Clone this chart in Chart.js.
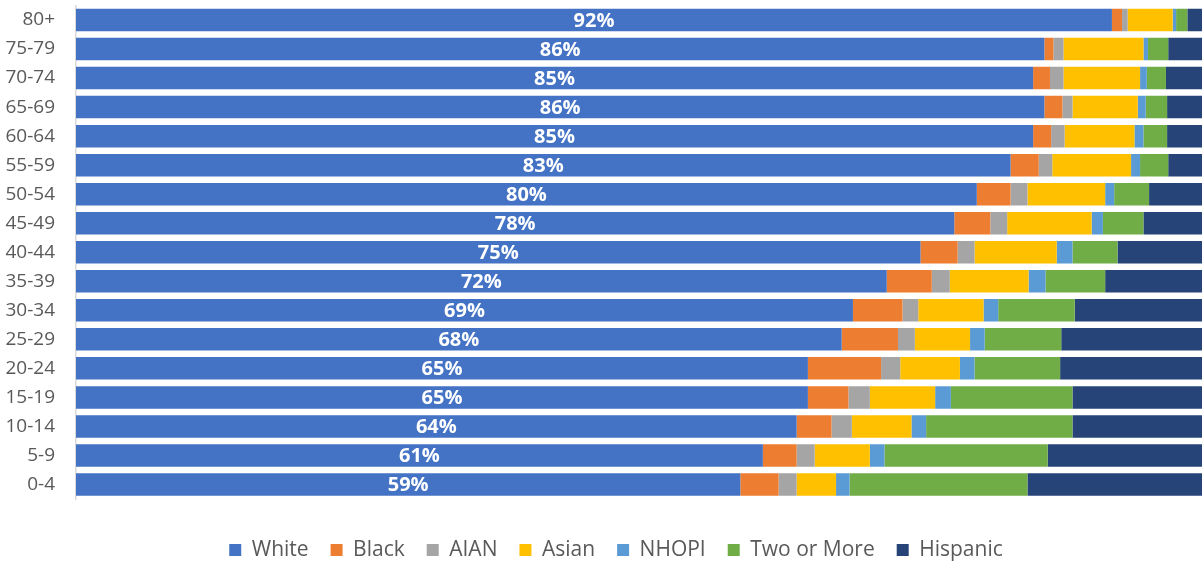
<!DOCTYPE html>
<html>
<head>
<meta charset="utf-8">
<title>Population by age group and race/ethnicity</title>
<script src="https://cdn.jsdelivr.net/npm/chart.js"></script>
<style>
  html, body { margin: 0; padding: 0; background: #fff; overflow: hidden; }
  #wrap { width: 1202px; height: 561px; }
</style>
</head>
<body>
<div id="wrap"><canvas id="raceChart" width="1202" height="561"></canvas></div>
<script>
// age groups, oldest at the top
const ageGroups = ['80+', '75-79', '70-74', '65-69', '60-64', '55-59', '50-54', '45-49', '40-44',
  '35-39', '30-34', '25-29', '20-24', '15-19', '10-14', '5-9', '0-4'];

// share of each group (%)
const white     = [92, 86, 85, 86, 85, 83, 80, 78, 75, 72, 69, 68, 65, 65, 64, 61, 59];
const black     = [0.9, 0.8, 1.5, 1.6, 1.6, 2.5, 3.0, 3.2, 3.3, 4.0, 4.4, 5.0, 6.5, 3.6, 3.1, 3.0, 3.4];
const aian      = [0.5, 0.9, 1.2, 0.9, 1.2, 1.2, 1.5, 1.5, 1.5, 1.6, 1.4, 1.5, 1.7, 1.9, 1.8, 1.6, 1.6];
const asian     = [4.0, 7.1, 6.8, 5.8, 6.2, 7.0, 6.9, 7.5, 7.3, 7.0, 5.8, 4.9, 5.3, 5.8, 5.3, 4.9, 3.5];
const nhopi     = [0.3, 0.4, 0.6, 0.7, 0.8, 0.8, 0.8, 1.0, 1.4, 1.5, 1.3, 1.3, 1.3, 1.4, 1.3, 1.3, 1.2];
const twoOrMore = [1.0, 1.8, 1.7, 1.9, 2.1, 2.5, 3.1, 3.6, 4.0, 5.3, 6.8, 6.8, 7.6, 10.8, 13.0, 14.5, 15.8];
const hispanic  = [1.3, 3.0, 3.2, 3.1, 3.1, 3.0, 4.7, 5.2, 7.5, 8.6, 11.3, 12.5, 12.6, 11.5, 11.5, 13.7, 15.5];

const FONT = '"Open Sans", "Noto Sans", sans-serif';
const TEXT_GRAY = '#595959';

const series = [
  { label: 'White',       data: white,     color: '#4472C4' },
  { label: 'Black',       data: black,     color: '#ED7D31' },
  { label: 'AIAN',        data: aian,      color: '#A5A5A5' },
  { label: 'Asian',       data: asian,     color: '#FFC000' },
  { label: 'NHOPI',       data: nhopi,     color: '#5B9BD5' },
  { label: 'Two or More', data: twoOrMore, color: '#70AD47' },
  { label: 'Hispanic',    data: hispanic,  color: '#264478' }
];

// white percentage written inside the first segment of each bar
const whiteLabels = {
  id: 'whiteLabels',
  afterDatasetsDraw(chart) {
    const meta = chart.getDatasetMeta(0);
    const ctx = chart.ctx;
    ctx.save();
    ctx.font = 'bold 20px ' + FONT;
    ctx.fillStyle = '#ffffff';
    ctx.textAlign = 'center';
    ctx.textBaseline = 'middle';
    meta.data.forEach((bar, i) => {
      const cx = (bar.x + bar.base) / 2;
      ctx.fillText(white[i] + '%', cx, bar.y + 1);
    });
    ctx.restore();
  }
};

// nudge the legend a little to the right of the canvas centre
const legendShift = {
  id: 'legendShift',
  afterLayout(chart) {
    if (chart.legend) {
      chart.legend.left += 15;
      chart.legend.right += 15;
    }
  }
};

new Chart(document.getElementById('raceChart'), {
  type: 'bar',
  data: {
    labels: ageGroups,
    datasets: series.map(s => ({
      label: s.label,
      data: s.data,
      backgroundColor: s.color,
      borderWidth: 0,
      barPercentage: 0.775,
      categoryPercentage: 1
    }))
  },
  options: {
    indexAxis: 'y',
    responsive: false,
    animation: false,
    devicePixelRatio: 1,
    layout: { padding: { left: 0, right: 0, top: 5.5, bottom: -9.5 } },
    scales: {
      x: {
        stacked: true,
        min: 0,
        max: 100,
        grid: { display: false },
        border: { display: false },
        ticks: { display: false },
        afterFit(scale) { scale.height = 18.5; }
      },
      y: {
        stacked: true,
        grid: { display: false, drawTicks: false },
        border: { display: true, color: '#d9d9d9', width: 1.5 },
        ticks: {
          color: TEXT_GRAY,
          padding: 21,
          font: { family: FONT, size: 19 }
        },
        afterFit(scale) {
          // fixed label column; the tick padding should not push the plot down
          scale.width = 76;
          scale.paddingTop = 0;
          scale.paddingBottom = 0;
        }
      }
    },
    plugins: {
      tooltip: { enabled: false },
      legend: {
        position: 'bottom',
        labels: {
          color: TEXT_GRAY,
          boxWidth: 12,
          boxHeight: 12,
          padding: 22,
          font: { family: FONT, size: 21 }
        }
      }
    }
  },
  plugins: [whiteLabels, legendShift]
});
</script>
</body>
</html>
